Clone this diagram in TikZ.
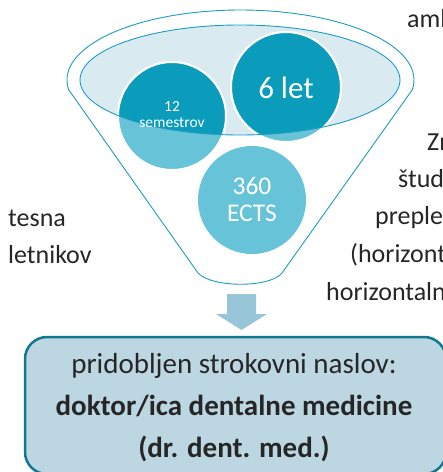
\documentclass[tikz,border=0pt]{standalone}
\usepackage{fontspec}
\setmainfont{Carlito}
\definecolor{rimline}{HTML}{1B9EBF}
\definecolor{innerfill}{HTML}{D9EAF0}
\definecolor{darkc}{HTML}{0B9BBB}
\definecolor{lightc}{HTML}{67C3D7}
\definecolor{arrowc}{HTML}{98C6D8}
\definecolor{boxfill}{HTML}{BDD7E2}
\definecolor{boxline}{HTML}{13788F}
\definecolor{txt}{HTML}{262626}
\tikzset{
  sidetext/.style={inner sep=0pt, text=txt, font=\fontsize{26}{30}\selectfont},
  circtext/.style={inner sep=0pt, text=white, align=center},
  boxtext/.style={inner sep=0pt, text=txt, font=\fontsize{29}{34}\selectfont},
}
\begin{document}
\begin{tikzpicture}[x=1pt,y=-1pt]
\useasboundingbox (0,0) rectangle (443,472);
\clip (0,0) rectangle (443,472);
% funnel outline
\draw[rimline, line width=0.9pt, fill=white]
  (240.5,80) ++(172:173.5 and 70) arc[start angle=172, end angle=368, x radius=173.5, y radius=70]
  -- (282,273) .. controls (270,288) and (212,288) .. (198,273) -- cycle;
% inner ellipse fill
\fill[innerfill] (240,80) ellipse[x radius=160, y radius=55];
% circles (light)
\fill[lightc, draw=white, line width=2pt] (172,116) circle[radius=54];
\fill[lightc, draw=white, line width=2pt] (286,87) circle[radius=55];
\fill[lightc] (252,200) circle[radius=54];
% dark part inside ellipse
\begin{scope}
  \clip (240,80) ellipse[x radius=160, y radius=55];
  \fill[darkc, draw=white, line width=2pt] (172,116) circle[radius=54];
  \fill[darkc, draw=white, line width=2pt] (286,87) circle[radius=55];
\end{scope}
\draw[rimline, line width=0.9pt] (240,80) ellipse[x radius=160, y radius=55];
% circle texts
\node[circtext, font=\fontsize{31}{34}\selectfont] (t6) at (286,88) {6 let};
\node[circtext, font=\fontsize{25.5}{28}\selectfont] (t360) at (252,186) {360};
\node[circtext, font=\fontsize{25.5}{28}\selectfont] (tects) at (252,213) {ECTS};
\node[circtext, font=\fontsize{15.5}{17}\selectfont] (t12) at (172,106) {12};
\node[circtext, font=\fontsize{15.5}{17}\selectfont] (tsem) at (172,123) {semestrov};
% arrow
\fill[arrowc] (227,294) -- (256,294) -- (256,314) -- (267,314) -- (241.5,330)
  -- (216,314) -- (227,314) -- cycle;
% bottom box
\draw[boxline, fill=boxfill, line width=2.5pt, rounded corners=22pt]
  (25,337) rectangle (446,474);
\node[boxtext, anchor=base] (b1) at (234,373) {pridobljen strokovni naslov:};
\node[boxtext, anchor=base, font=\fontsize{29}{34}\selectfont\bfseries] (b2) at (234,415) {doktor/ica dentalne medicine};
\node[boxtext, anchor=base, font=\fontsize{29}{34}\selectfont\bfseries] (b3) at (234,457) {(dr. dent. med.)};
% side texts
\node[sidetext, anchor=base west] (l1) at (8,226) {tesna};
\node[sidetext, anchor=base west] (l2) at (8,263) {letnikov};
\node[sidetext, anchor=base west] (r0) at (407,27) {amb};
\node[sidetext, anchor=base west] (r1) at (427,150) {Zn};
\node[sidetext, anchor=base west] (r2) at (398,187) {štud};
\node[sidetext, anchor=base west] (r3) at (375,224) {preple};
\node[sidetext, anchor=base west] (r4) at (350,262) {(horizont};
\node[sidetext, anchor=base west] (r5) at (326,300) {horizontaln};
\end{tikzpicture}
\end{document}
